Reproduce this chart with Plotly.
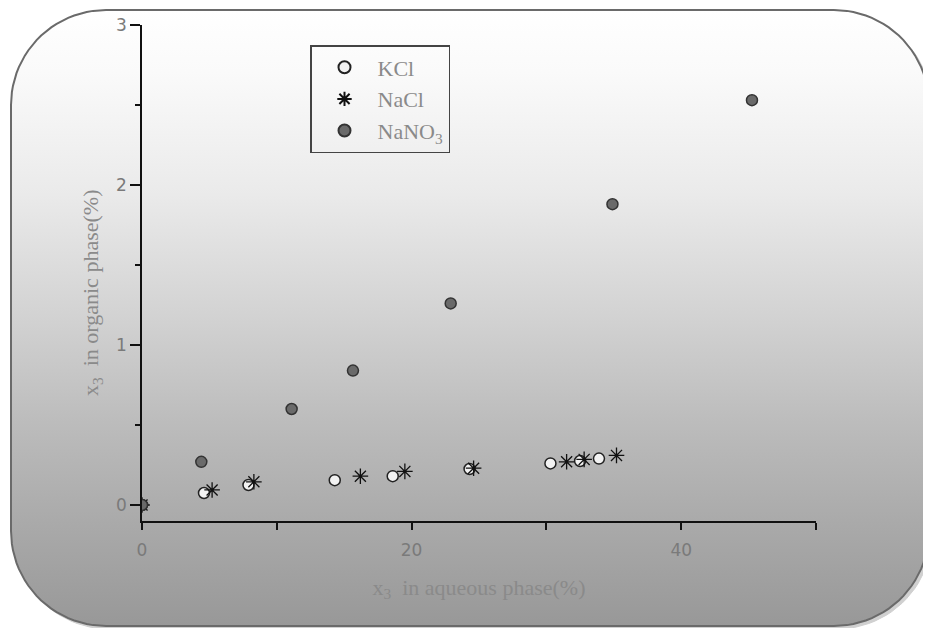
import numpy as np
import plotly.graph_objects as go

# ---------------- data ----------------
kcl_x = [0.0, 4.6, 7.9, 14.3, 18.6, 24.3, 30.3, 32.5, 33.9]
kcl_y = [0.0, 0.075, 0.125, 0.155, 0.18, 0.225, 0.26, 0.275, 0.29]

nacl_x = [0.0, 5.2, 8.3, 16.2, 19.5, 24.6, 31.5, 32.8, 35.2]
nacl_y = [0.0, 0.094, 0.145, 0.18, 0.21, 0.23, 0.27, 0.285, 0.31]

nano3_x = [0.0, 4.4, 11.1, 15.65, 22.9, 34.9, 45.25]
nano3_y = [0.0, 0.27, 0.6, 0.84, 1.26, 1.88, 2.53]

x_tickvals = [0, 10, 20, 30, 40, 50]
x_ticktext = ["0", "", "20", "", "40", ""]
y_tickvals = [0, 1, 2, 3]
y_ticktext = ["0", "1", "2", "3"]

series_names = ["KCl", "NaCl", "NaNO<sub>3</sub>"]

# ---------------- figure geometry ----------------
W, H = 931, 628
OFF = 8  # page body margin: screen coords = figure coords + OFF


def fx(px):
    return px - OFF


def fy(py):
    return py - OFF


PL, PR, PT, PB = fx(142), fx(816), fy(25), fy(521)  # plot area in figure pixels


def rounded_rect(x0, y0, x1, y1, r, n=24):
    """Outline of a rounded rectangle in figure pixels (y down), returned with y flipped up."""
    xs, ys = [], []
    corners = [
        (x1 - r, y0 + r, -np.pi / 2, 0),
        (x1 - r, y1 - r, 0, np.pi / 2),
        (x0 + r, y1 - r, np.pi / 2, np.pi),
        (x0 + r, y0 + r, np.pi, 1.5 * np.pi),
    ]
    for cx, cy, a0, a1 in corners:
        t = np.linspace(a0, a1, n)
        xs.extend(cx + r * np.cos(t))
        ys.extend(cy + r * np.sin(t))
    xs.append(xs[0])
    ys.append(ys[0])
    return list(xs), [H - v for v in ys]


fig = go.Figure()

# shadow
sx, sy = rounded_rect(fx(14), fy(13), fx(932), fy(629), 95)
fig.add_trace(go.Scatter(x=sx, y=sy, mode="lines", fill="toself",
                         fillcolor="#d0d0d0", line=dict(color="#d0d0d0", width=1),
                         hoverinfo="skip", showlegend=False, xaxis="x", yaxis="y"))
# gradient panel
bx, by = rounded_rect(fx(11), fy(10), fx(929), fy(626), 95)
fig.add_trace(go.Scatter(
    x=bx, y=by, mode="lines", fill="toself",
    fillgradient=dict(type="vertical",
                      colorscale=[[0, "#989898"], [0.17, "#aaaaaa"], [0.33, "#bcbcbc"],
                                  [0.5, "#d2d2d2"], [0.7, "#eaeaea"], [0.9, "#fafafa"],
                                  [1, "#ffffff"]]),
    line=dict(color="#6a6a6a", width=2),
    hoverinfo="skip", showlegend=False, xaxis="x", yaxis="y"))

# data series
fig.add_trace(go.Scatter(
    x=kcl_x, y=kcl_y, mode="markers", name=series_names[0], legendgroup="a",
    marker=dict(symbol="circle", size=11, color="#f2f2f2",
                line=dict(color="#222222", width=1.5)),
    xaxis="x2", yaxis="y2"))
fig.add_trace(go.Scatter(
    x=nacl_x, y=nacl_y, mode="markers", name=series_names[1], legendgroup="b",
    marker=dict(symbol="asterisk-open", size=13, color="#111111",
                line=dict(color="#111111", width=1.3)),
    xaxis="x2", yaxis="y2"))
fig.add_trace(go.Scatter(
    x=nano3_x, y=nano3_y, mode="markers", name=series_names[2], legendgroup="c",
    marker=dict(symbol="circle", size=11, color="#6a6a6a",
                line=dict(color="#333333", width=1.5)),
    xaxis="x2", yaxis="y2"))

tick_font = dict(family="DejaVu Sans, sans-serif", size=17, color="#7a7a7a")
title_font = dict(family="Liberation Serif, serif", size=22, color="#8a8a8a")

fig.update_layout(
    width=W, height=H,
    margin=dict(l=0, r=0, t=0, b=0),
    paper_bgcolor="white",
    plot_bgcolor="rgba(0,0,0,0)",
    xaxis=dict(domain=[0, 1], range=[0, W], visible=False, fixedrange=True),
    yaxis=dict(domain=[0, 1], range=[0, H], visible=False, fixedrange=True),
    xaxis2=dict(
        domain=[PL / W, PR / W], anchor="y2", range=[0, 50],
        showline=True, linecolor="#111111", linewidth=1.5,
        showgrid=False, zeroline=False,
        ticks="outside", ticklen=7, tickwidth=1.5, tickcolor="#111111",
        ticklabelstandoff=6,
        tickvals=x_tickvals, ticktext=x_ticktext, tickfont=tick_font,
        title=dict(text="x<sub>3</sub>  in aqueous phase(%)", font=title_font, standoff=20),
        automargin=False,
    ),
    yaxis2=dict(
        domain=[(H - PB) / H, (H - PT) / H], anchor="x2", range=[-0.1, 3],
        showline=True, linecolor="#111111", linewidth=1.5,
        showgrid=False, zeroline=False,
        ticks="outside", ticklen=10, tickwidth=1.5, tickcolor="#111111",
        tickvals=y_tickvals, ticktext=y_ticktext, tickfont=tick_font,
        minor=dict(tickvals=[0.5, 1.5, 2.5], ticks="outside", ticklen=5,
                   tickwidth=1.5, tickcolor="#111111", showgrid=False),
        automargin=False,
    ),
    annotations=[dict(
        text="x<sub>3</sub>  in organic phase(%)", textangle=-90,
        x=fx(92) / W, y=(H - fy(293)) / H, xref="paper", yref="paper",
        xanchor="center", yanchor="middle", showarrow=False, font=title_font,
    )],
    showlegend=True,
    legend=dict(
        x=fx(310) / W, y=(H - fy(45)) / H, xanchor="left", yanchor="top",
        bgcolor="rgba(0,0,0,0)", bordercolor="#444444", borderwidth=1.5,
        font=dict(family="Liberation Serif, serif", size=22, color="#8a8a8a"),
        traceorder="grouped", tracegroupgap=0, itemsizing="constant",
        itemwidth=56,
    ),
)

fig.write_html("out.html")
